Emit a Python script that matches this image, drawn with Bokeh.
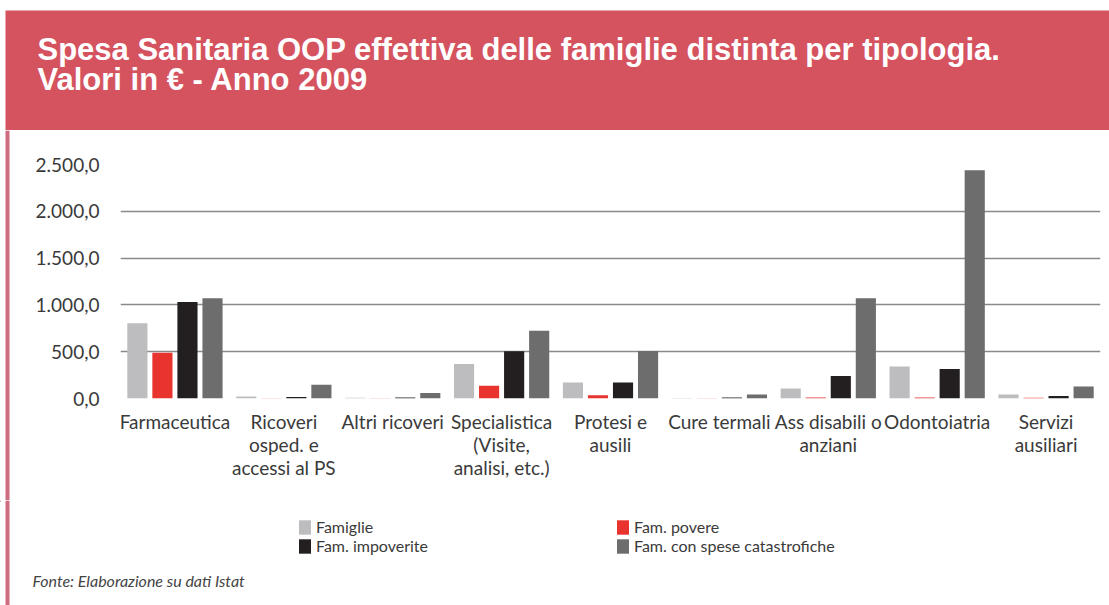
from bokeh.plotting import figure
from bokeh.models import Range1d, FixedTicker, Legend, LegendItem, ColumnDataSource
from bokeh.layouts import column, row
from bokeh.embed import file_html
from bokeh.resources import INLINE
from bokeh.core.properties import value

# ---------------- data ----------------
categories = ["Farmaceutica", "Ricoveri osped. e accessi al PS", "Altri ricoveri",
              "Specialistica (Visite, analisi, etc.)", "Protesi e ausili", "Cure termali",
              "Ass disabili o anziani", "Odontoiatria", "Servizi ausiliari"]
tick_labels = ["Farmaceutica", "Ricoveri\nosped. e\naccessi al PS", "Altri ricoveri",
               "Specialistica\n(Visite,\nanalisi, etc.)", "Protesi e\nausili", "Cure termali",
               "Ass disabili o\nanziani", "Odontoiatria", "Servizi\nausiliari"]
series_names = ["Famiglie", "Fam. povere", "Fam. impoverite", "Fam. con spese catastrofiche"]
famiglie = [804, 21, 8, 368, 171, 5, 107, 343, 43]
povere = [489, 3, 2, 136, 36, 2, 10, 10, 8]
impoverite = [1032, 15, 12, 505, 171, 12, 240, 315, 26]
catastrofiche = [1071, 147, 58, 725, 507, 43, 1071, 2438, 128]
y_ticks = [0, 500, 1000, 1500, 2000, 2500]
title_lines = ["Spesa Sanitaria OOP effettiva delle famiglie distinta per tipologia.",
               "Valori in \u20ac - Anno 2009"]
source_note = "Fonte: Elaborazione su dati Istat"

colors = ["#bdbdc0", "#e8332e", "#231f20", "#6d6d6d"]
W = 1109
HEAD_H = 130
MAIN_H = 370
FOOT_H = 605 - HEAD_H - MAIN_H
RED = "#d5535f"
PINK = "#cf6a7f"
TXT = "#3a3a3a"


def blank(width, height):
    f = figure(width=width, height=height, x_range=Range1d(0, width),
               y_range=Range1d(height, 0),
               output_backend="svg", toolbar_location=None, min_border=0,
               background_fill_color="white", border_fill_color="white", outline_line_color=None)
    f.axis.visible = False
    f.grid.visible = False
    f.frame_align = False
    return f


# ---------------- header ----------------
head = blank(W, HEAD_H)
head.quad(left=[5], right=[W], top=[10], bottom=[HEAD_H], fill_color=RED, line_color=None)
head.text(x=[37, 37], y=[49, 79], text=title_lines, text_color="white",
          text_font=value("Liberation Sans"), text_font_style="bold",
          text_font_size="31px", text_baseline="middle", text_align="left")

# ---------------- left strip ----------------
STRIP_W = 10
strip = blank(STRIP_W, MAIN_H)
strip.quad(left=[5], right=[9], top=[0], bottom=[MAIN_H], fill_color=PINK, line_color=None)

# ---------------- main chart ----------------
MAIN_W = W - STRIP_W
p = figure(width=MAIN_W, height=MAIN_H, x_range=Range1d(0, len(categories)),
           y_range=Range1d(0, 2500), output_backend="svg", toolbar_location=None,
           min_border_left=110, min_border_right=9, min_border_top=34, min_border_bottom=102,
           background_fill_color="white", border_fill_color="white", outline_line_color=None)
p.frame_align = False

step = 0.23
bar_w = 0.185
renderers = []
for k, vals in enumerate([famiglie, povere, impoverite, catastrofiche]):
    xs = [i + 0.5 + (k - 1.5) * step for i in range(len(categories))]
    src = ColumnDataSource(dict(x=xs, top=vals, cat=categories))
    r = p.vbar(x="x", top="top", width=bar_w, source=src, fill_color=colors[k], line_color=None)
    renderers.append(r)

# y axis
p.yaxis.ticker = FixedTicker(ticks=y_ticks)
p.yaxis.major_label_overrides = {
    t: f"{t:,.1f}".replace(",", "X").replace(".", ",").replace("X", ".") for t in y_ticks}
p.yaxis.axis_line_color = None
p.yaxis.major_tick_line_color = None
p.yaxis.minor_tick_line_color = None
p.yaxis.major_tick_out = 0
p.yaxis.major_label_standoff = 21
p.yaxis.major_label_text_font = "Lato"
p.yaxis.major_label_text_font_size = "19px"
p.yaxis.major_label_text_color = TXT

# x axis
p.xaxis.ticker = FixedTicker(ticks=[i + 0.5 for i in range(len(categories))])
p.xaxis.major_label_overrides = {i + 0.5: lab for i, lab in enumerate(tick_labels)}
p.xaxis.axis_line_color = None
p.xaxis.major_tick_line_color = None
p.xaxis.minor_tick_line_color = None
p.xaxis.major_tick_out = 0
p.xaxis.major_label_standoff = 11
p.xaxis.major_label_text_font = "Lato"
p.xaxis.major_label_text_font_size = "19px"
p.xaxis.major_label_text_color = TXT
p.xaxis.major_label_text_line_height = 1.0
p.xaxis.major_label_orientation = "horizontal"

# grid
p.xgrid.visible = False
p.ygrid.ticker = FixedTicker(ticks=y_ticks)
p.ygrid.grid_line_color = "#8a8a8a"
p.ygrid.grid_line_width = 1.5

# ---------------- footer: legend + source ----------------
foot = blank(W, FOOT_H)
foot.quad(left=[5], right=[9], top=[0], bottom=[FOOT_H], fill_color=PINK, line_color=None)
# legend swatch renderers: one placeholder point each, outside the visible range
swatches = [foot.vbar(x=[-100], top=[0], bottom=[1], width=1, fill_color=colors[k], line_color=None)
            for k in range(4)]
items = [LegendItem(label=series_names[k], renderers=[swatches[k]]) for k in range(4)]
legend = Legend(items=items, location=(297, 50), orientation="horizontal", ncols=2,
                glyph_width=15, glyph_height=18, label_standoff=4, label_width=299,
                label_height=15, spacing=0, padding=0, margin=0,
                border_line_color=None, background_fill_alpha=0,
                label_text_font="Lato", label_text_font_size="16px", label_text_color=TXT)
foot.add_layout(legend, "center")
foot.text(x=[32], y=[80], text=[source_note],
          text_font=value("Lato"), text_font_style="italic", text_font_size="16px",
          text_color="#444444", text_baseline="middle", text_align="left")

layout = column(head, row(strip, p, spacing=0), foot, spacing=0)
open("out.html", "w").write(file_html(layout, INLINE))
